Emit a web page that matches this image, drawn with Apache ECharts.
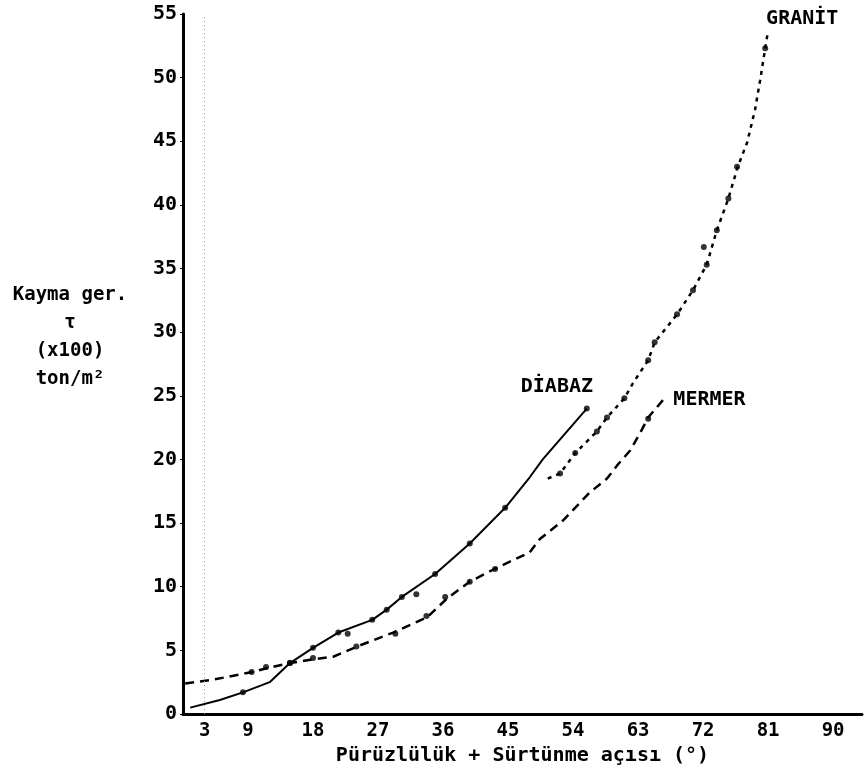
<!DOCTYPE html>
<html><head><meta charset="utf-8">
<script src="https://cdn.jsdelivr.net/npm/echarts@6/dist/echarts.min.js"></script>
<style>html,body{margin:0;padding:0;background:#fff}#c{width:866px;height:768px}</style>
</head><body><div id="c"></div>
<script>
const xTickValues = [3, 9, 18, 27, 36, 45, 54, 63, 72, 81, 90];
const seriesNames = ['DİABAZ', 'MERMER', 'GRANİT'];
const xAxisName = 'Pürüzlülük + Sürtünme açısı (°)';
const yAxisName = 'Kayma ger.\nτ\n(x100)\nton/m²';

const diabazLine = [[1.0,0.5],[5.1,1.1],[8.3,1.7],[12.0,2.5],[14.8,4.0],[18.0,5.2],[21.5,6.4],[26.2,7.4],[28.2,8.2],[30.3,9.2],[34.9,11.0],[39.7,13.4],[44.6,16.2],[48.0,18.6],[49.8,20.0],[55.9,24.0]];
const diabazDots = [[8.3,1.7],[14.8,4.0],[18.0,5.2],[21.5,6.4],[22.8,6.3],[26.2,7.4],[28.2,8.2],[30.3,9.2],[32.3,9.4],[34.9,11.0],[39.7,13.4],[44.6,16.2],[55.9,24.0]];

const mermerLine = [[0.3,2.4],[4.2,2.7],[9.6,3.3],[11.6,3.6],[14.8,4.0],[18.0,4.3],[20.8,4.5],[24.1,5.3],[29.1,6.4],[33.8,7.6],[36.6,9.1],[39.7,10.4],[43.5,11.5],[48.0,12.7],[49.4,13.75],[52.6,15.2],[56.3,17.4],[58.7,18.5],[60.2,19.6],[61.9,20.7],[63.3,22.1],[64.4,23.3],[66.5,24.7]];
const mermerDots = [[9.5,3.3],[11.5,3.7],[14.8,4.0],[18.0,4.4],[24.0,5.3],[29.4,6.3],[33.7,7.7],[36.3,9.2],[39.7,10.4],[43.2,11.4],[64.4,23.2]];

const granitLine = [[50.5,18.5],[52.2,18.9],[54.3,20.5],[57.3,22.2],[58.7,23.3],[61.1,24.8],[62.3,26.0],[64.4,27.8],[65.3,29.2],[68.4,31.4],[70.6,33.3],[72.5,35.3],[73.9,38.0],[75.5,40.5],[76.8,43.0],[78.1,44.9],[79.2,47.5],[79.9,49.8],[80.6,52.3],[81.0,53.7]];
const granitDots = [[52.2,18.9],[54.3,20.5],[57.3,22.2],[58.7,23.3],[61.1,24.8],[64.4,27.8],[65.3,29.2],[68.4,31.4],[70.6,33.3],[72.1,36.7],[72.5,35.3],[73.9,38.0],[75.5,40.5],[76.7,43.0],[80.6,52.3]];

const F = 'DejaVu Sans Mono';
const txt = {fontFamily: F, fontWeight: 'bold', color: '#000'};

function lineSeries(name, data, type, width, labelOffset) {
  return {
    name: name, type: 'line', data: data, symbol: 'none', smooth: false,
    lineStyle: {color: '#000', width: width, type: type},
    endLabel: Object.assign({show: true, formatter: name, fontSize: 20, offset: labelOffset}, txt),
    z: 3, silent: true, animation: false
  };
}
function dotSeries(data) {
  return {type: 'scatter', data: data, symbol: 'circle', symbolSize: 6,
    itemStyle: {color: '#000'}, z: 4, silent: true, animation: false};
}

const chart = echarts.init(document.getElementById('c'), null, {renderer: 'canvas'});
const d = lineSeries(seriesNames[0], diabazLine, 'solid', 2, [-74, -22]);
d.markLine = {silent: true, symbol: 'none', label: {show: false},
  lineStyle: {color: '#999', type: [1, 3], width: 1}, data: [{xAxis: xTickValues[0]}], animation: false};
chart.setOption({
  backgroundColor: '#fff',
  animation: false,
  grid: {left: 183, right: 4, top: 14, bottom: 54, containLabel: false, outerBoundsMode: 'none'},
  xAxis: {
    type: 'value', min: 0, max: 94,
    name: xAxisName, nameLocation: 'middle', nameGap: 30,
    nameTextStyle: Object.assign({fontSize: 20}, txt),
    axisLine: {show: true, lineStyle: {color: '#000', width: 3}},
    axisTick: {show: false},
    axisLabel: Object.assign({customValues: xTickValues, fontSize: 19, margin: 8}, txt),
    splitLine: {show: false}
  },
  yAxis: {
    type: 'value', min: 0, max: 55, interval: 5,
    axisLine: {show: true, lineStyle: {color: '#000', width: 3}},
    axisTick: {show: true, length: 3, lineStyle: {color: '#000', width: 1}},
    axisLabel: Object.assign({fontSize: 20, margin: 6}, txt),
    splitLine: {show: false}
  },
  graphic: [{
    type: 'text', x: 70, y: 281,
    style: {text: yAxisName, fontFamily: F, fontWeight: 'bold', fontSize: 19, lineHeight: 28, align: 'center', fill: '#000'}
  }],
  series: [
    d, dotSeries(diabazDots),
    lineSeries(seriesNames[1], mermerLine, [9, 6], 2.5, [2, 0]), dotSeries(mermerDots),
    lineSeries(seriesNames[2], granitLine, [4, 5], 2.5, [-10, -12]), dotSeries(granitDots)
  ]
});
</script></body></html>
